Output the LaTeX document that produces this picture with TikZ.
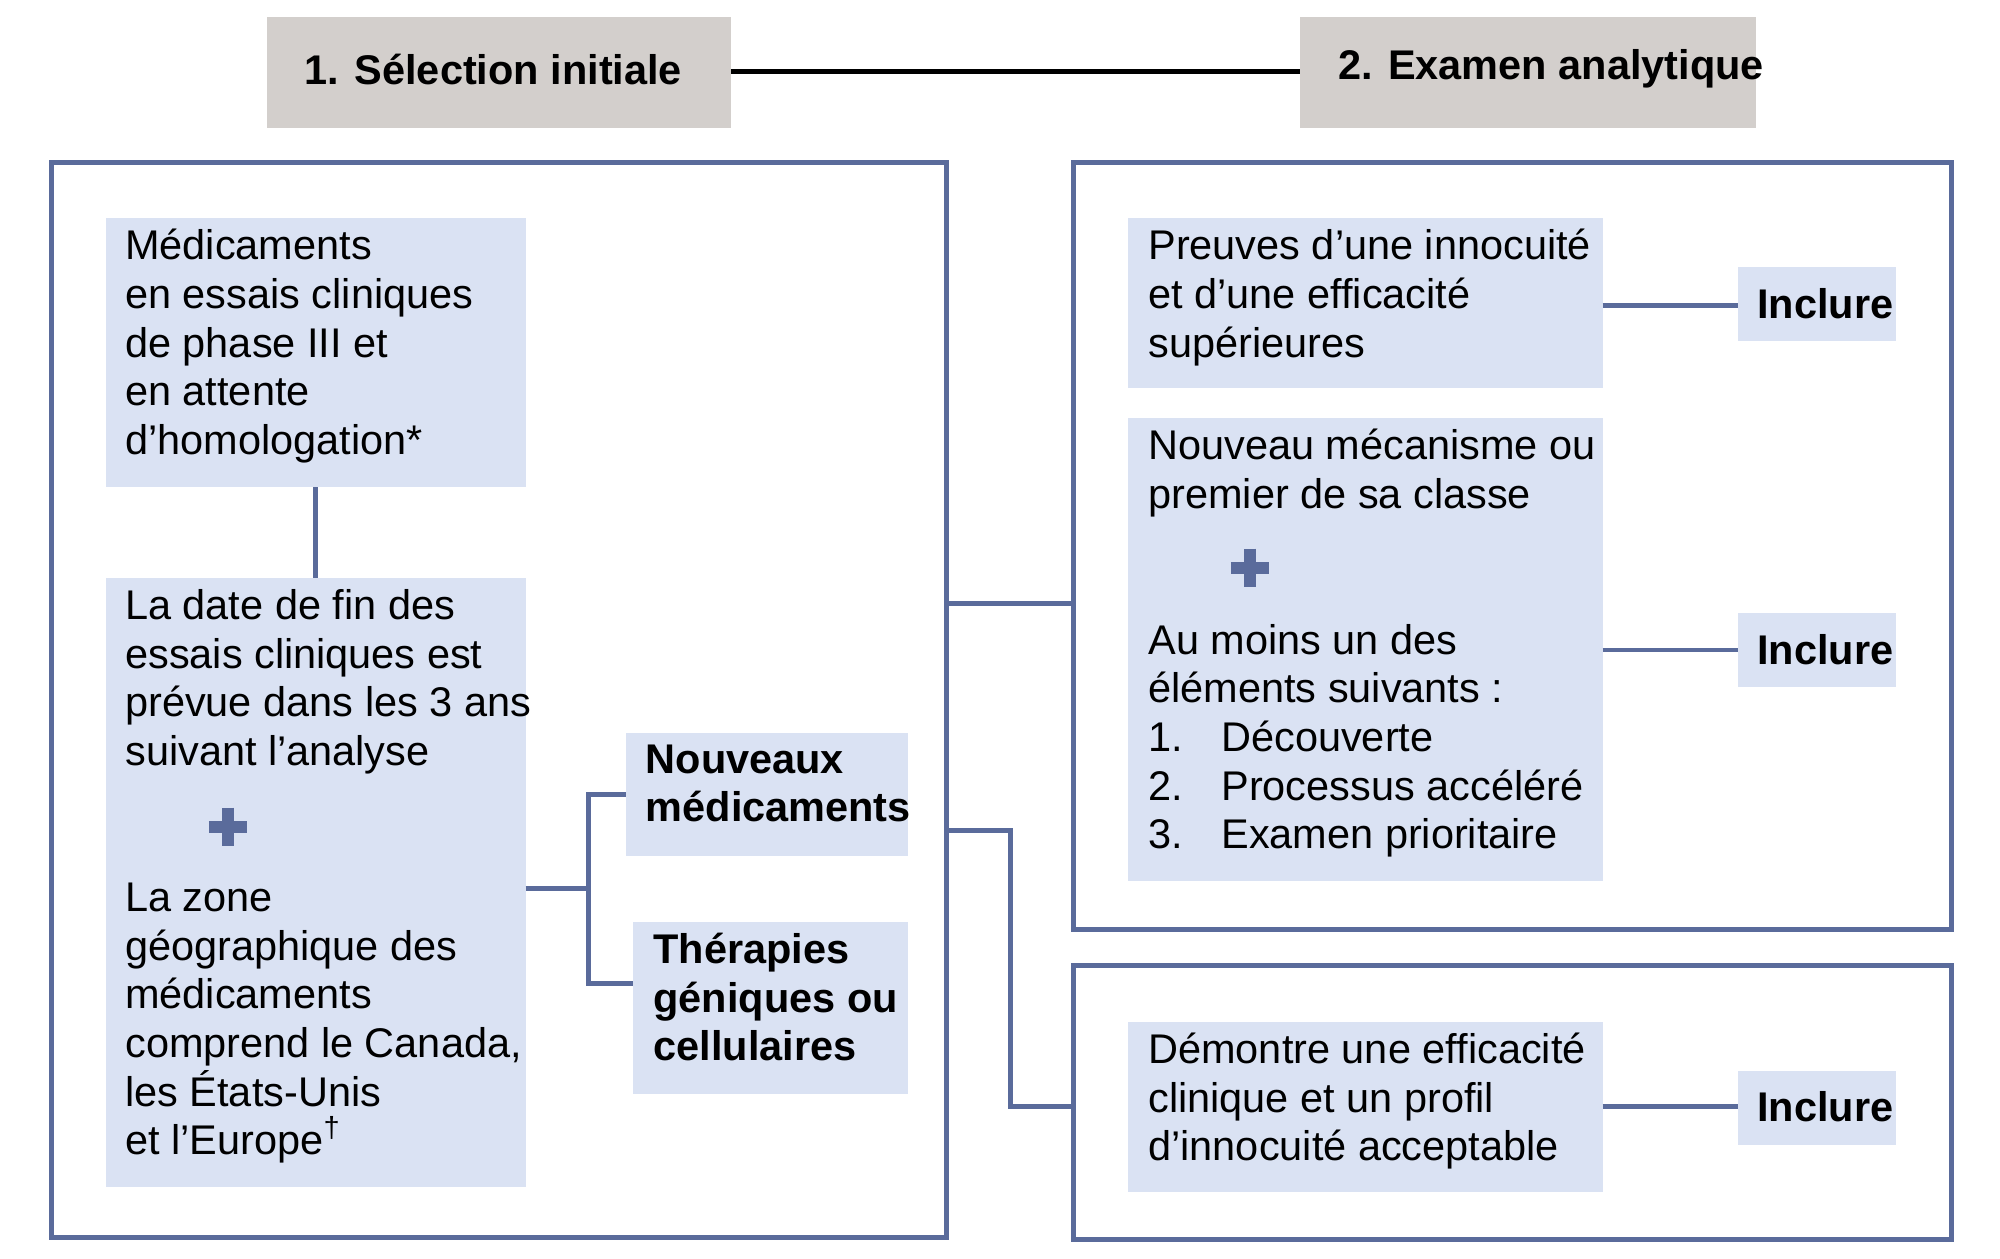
\documentclass[tikz,border=0pt]{standalone}
\usepackage{fontspec}
\setmainfont{Liberation Sans}
\definecolor{fr}{HTML}{5A6B9B}
\definecolor{bx}{HTML}{DAE2F3}
\definecolor{hd}{HTML}{D3CFCC}
\begin{document}
\begin{tikzpicture}[x=0.01cm,y=-0.01cm,
  frame/.style={draw=fr,line width=1.1pt},
  lnk/.style={draw=fr,line width=1.1pt},
  txt/.style={anchor=north west,inner sep=0pt,align=left,font=\fontsize{9.2}{10.8}\selectfont},
  btxt/.style={txt,font=\fontsize{9.2}{10.8}\selectfont\bfseries},
  plus/.style={fr,line width=2.6pt}]
\useasboundingbox (0,0) rectangle (1560,982);
% headers
\fill[hd] (208,13) rectangle (570,100);
\fill[hd] (1014,13) rectangle (1370,100);
\coordinate (h1) at (570,56); \coordinate (h2) at (1014,56);
\draw[line width=1.1pt] (h1) -- (h2);
\node[btxt,anchor=west] (t1) at (237,54) {1. Sélection initiale};
\node[btxt,anchor=west] (t2) at (1043,54) {2. Examen analytique};
% frames
\draw[frame] (40,127) rectangle (738,965);
\draw[frame] (837,127) rectangle (1522,725);
\draw[frame] (837,753) rectangle (1522,967);
% boxes
\fill[bx] (83,170) rectangle (410,380);
\fill[bx] (83,451) rectangle (410,926);
\fill[bx] (488,572) rectangle (708,668);
\fill[bx] (494,719) rectangle (708,853);
\fill[bx] (880,170) rectangle (1250,303);
\fill[bx] (880,326) rectangle (1250,687);
\fill[bx] (880,797) rectangle (1250,930);
\foreach \y in {208,478,835}{\fill[bx] (1356,\y) rectangle (1479,\y+58);}
% texts
\node[txt] (a) at (97,178) {Médicaments\\en essais cliniques\\de phase III et\\en attente\\d’homologation*};
\node[txt] (b) at (97,459) {La date de fin des\\essais cliniques est\\prévue dans les 3 ans\\suivant l'analyse};
\node[txt] (b2) at (97,688) {La zone\\géographique des\\médicaments\\comprend le Canada,\\les États-Unis\\et l’Europe\textsuperscript{†}};
\node[btxt] (n) at (503,580) {Nouveaux\\médicaments};
\node[btxt] (th) at (509,727) {Thérapies\\géniques ou\\cellulaires};
\node[txt] (c) at (895,178) {Preuves d’une innocuité\\et d’une efficacité\\supérieures};
\node[txt] (d) at (895,334) {Nouveau mécanisme ou\\premier de sa classe};
\node[txt] (d2) at (895,486) {Au moins un des\\éléments suivants :\\\makebox[16.2pt][l]{1.}Découverte\\\makebox[16.2pt][l]{2.}Processus accéléré\\\makebox[16.2pt][l]{3.}Examen prioritaire};
\node[txt] (e) at (895,805) {Démontre une efficacité\\clinique et un profil\\d’innocuité acceptable};
\foreach \y/\n in {237/i1,507/i2,863/i3}{\node[btxt,anchor=west] (\n) at (1370,\y) {Inclure};}
% plus signs
\draw[plus] (163,645) -- (193,645) (178,630) -- (178,660);
\draw[plus] (960,443) -- (990,443) (975,428) -- (975,458);
% connectors
\draw[lnk] (246,380) -- (246,451);
\draw[lnk] (410,693) -- (459,693);
\draw[lnk] (488,620) -- (459,620) -- (459,767) -- (494,767);
\draw[lnk] (738,471) -- (837,471);
\draw[lnk] (738,648) -- (788,648) -- (788,863) -- (837,863);
\draw[lnk] (1250,238) -- (1356,238);
\draw[lnk] (1250,507) -- (1356,507);
\draw[lnk] (1250,863) -- (1356,863);
\end{tikzpicture}
\end{document}
